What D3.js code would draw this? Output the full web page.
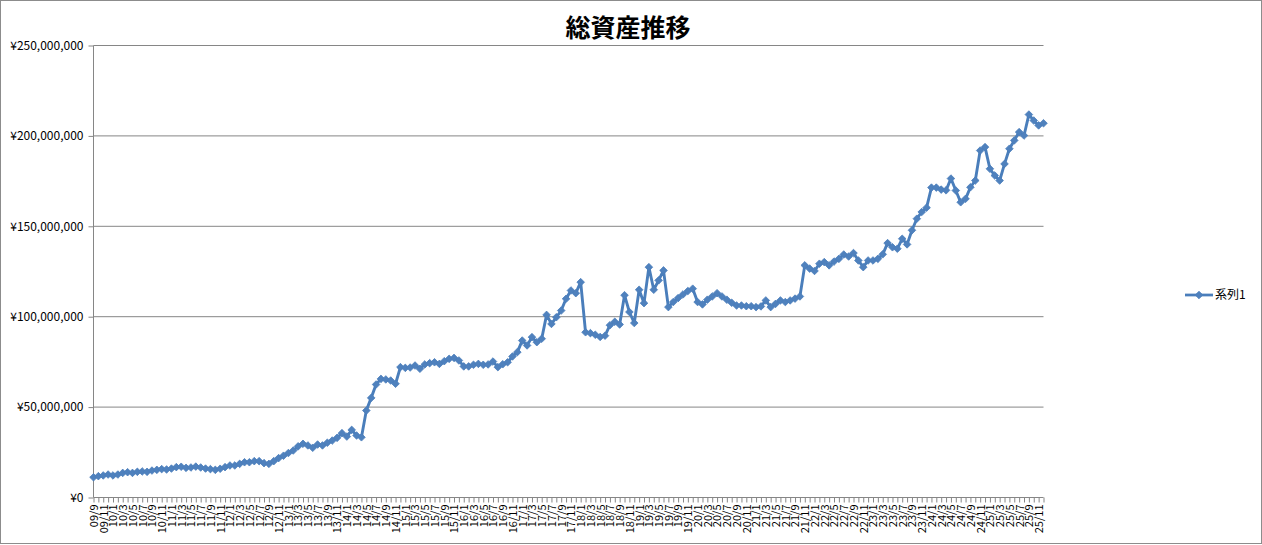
<!DOCTYPE html>
<html>
<head>
<meta charset="utf-8">
<script src="https://cdn.jsdelivr.net/npm/d3@7"></script>
<style>
body { margin: 0; background: #fff; }
svg { display: block; font-family: "Noto Sans CJK JP", "Noto Sans", sans-serif; }
</style>
</head>
<body>
<svg width="1262" height="545"></svg>
<script>
// 総資産 (百万円), 2009/9 - 2025/12 monthly
var assets2009 = [11.2, 11.8, 12.2, 12.7];
var assets2010 = [12.2, 12.7, 13.6, 14.0, 13.6, 14.2, 14.4, 14.2, 14.9, 15.3, 15.7, 15.5];
var assets2011 = [16.0, 16.8, 17.0, 16.4, 16.6, 17.1, 16.6, 16.0, 15.7, 15.3, 15.9, 16.8];
var assets2012 = [17.7, 17.7, 18.6, 19.5, 19.5, 20.1, 20.1, 19.0, 18.6, 20.1, 21.8, 23.1];
var assets2013 = [24.6, 26.0, 28.3, 29.7, 28.8, 27.5, 29.3, 28.8, 30.3, 31.5, 33.0, 35.6];
var assets2014 = [33.7, 37.4, 34.3, 33.3, 48.1, 55.1, 62.5, 65.6, 65.3, 64.7, 62.9, 72.1];
var assets2015 = [71.7, 71.9, 73.0, 71.2, 73.6, 74.3, 74.8, 73.9, 75.4, 76.7, 77.2, 75.8];
var assets2016 = [72.5, 72.5, 73.4, 73.9, 73.4, 73.6, 75.2, 72.1, 73.7, 74.8, 78.0, 80.4];
var assets2017 = [86.8, 84.1, 88.7, 85.9, 87.8, 101.0, 96.0, 99.7, 103.4, 109.9, 114.5, 113.0];
var assets2018 = [119.1, 91.4, 90.9, 90.0, 88.8, 89.5, 95.3, 97.2, 95.7, 111.9, 102.6, 96.5];
var assets2019 = [114.9, 107.5, 127.4, 114.9, 120.1, 125.6, 105.3, 108.1, 110.3, 112.3, 114.2, 115.5];
var assets2020 = [108.1, 106.8, 109.4, 111.2, 113.0, 111.2, 109.4, 107.7, 106.2, 106.2, 105.8, 105.8];
var assets2021 = [105.3, 105.7, 109.0, 105.3, 107.1, 109.0, 108.1, 109.0, 110.0, 111.2, 128.4, 126.6];
var assets2022 = [125.3, 129.3, 130.2, 128.4, 130.5, 132.0, 134.4, 133.3, 135.2, 131.1, 127.4, 131.1];
var assets2023 = [131.1, 132.0, 134.5, 140.7, 138.4, 137.6, 143.1, 140.0, 147.8, 154.2, 157.9, 160.3];
var assets2024 = [171.4, 171.4, 170.3, 169.9, 176.4, 169.8, 163.3, 165.2, 171.6, 175.3, 191.9, 193.8];
var assets2025 = [181.8, 178.1, 175.3, 184.5, 192.9, 197.5, 202.1, 200.2, 211.8, 208.5, 205.8, 207.0];

var yTicks = [0, 50, 100, 150, 200, 250];
var seriesName = '系列1';
var title = '総資産推移';

var values = [].concat(assets2009, assets2010, assets2011, assets2012, assets2013, assets2014,
	assets2015, assets2016, assets2017, assets2018, assets2019, assets2020, assets2021,
	assets2022, assets2023, assets2024, assets2025);

// category labels "yy/m"
var months = values.map(function (d, i) {
	var m = 8 + i;
	var yy = 9 + Math.floor(m / 12);
	return (yy < 10 ? '0' + yy : '' + yy) + '/' + (m % 12 + 1);
});

var data = values.map(function (v, i) {
	return { month: months[i], value: v };
});

var svg = d3.select('svg');
var width = 1262, height = 545;
var plotLeft = 93.5, plotRight = 1043.5, plotTop = 45.5, plotBottom = 497.5;
var blue = '#4a7ebb';
var grey = '#868686';

svg.append('rect')
	.attr('x', 0.5).attr('y', 0.5)
	.attr('width', width - 1).attr('height', height - 2)
	.attr('fill', '#fff')
	.attr('stroke', '#8c8c8c');

var xScale = d3.scalePoint().domain(months).range([plotLeft, plotRight]);
var yScale = d3.scaleLinear().domain([0, 250]).range([plotBottom, plotTop]);

// gridlines
svg.append('g')
	.selectAll('line')
	.data(yTicks.slice(1))
	.enter()
	.append('line')
	.attr('x1', plotLeft).attr('x2', plotRight)
	.attr('y1', function (d) { return yScale(d); })
	.attr('y2', function (d) { return yScale(d); })
	.attr('stroke', grey)
	.attr('stroke-width', 1);

var yenFormat = d3.format(',');

var yAxis = d3.axisLeft(yScale)
	.tickValues(yTicks)
	.tickSize(5)
	.tickPadding(5)
	.tickFormat(function (d) { return '¥' + yenFormat(d * 1000000); });

var gy = svg.append('g')
	.attr('transform', 'translate(' + plotLeft + ',0)')
	.call(yAxis);
gy.select('.domain').attr('stroke', grey).attr('d', 'M0,' + plotTop + 'V' + plotBottom);
gy.selectAll('.tick line').attr('stroke', grey);
gy.selectAll('text')
	.style('font-size', '12px')
	.style('font-family', '"Noto Sans CJK JP", sans-serif')
	.attr('fill', '#000');

var xAxis = d3.axisBottom(xScale)
	.tickSize(5)
	.tickFormat(function (d, i) { return i % 2 === 0 ? d : ''; });

var gx = svg.append('g')
	.attr('transform', 'translate(0,' + plotBottom + ')')
	.call(xAxis);
gx.select('.domain').attr('stroke', grey).attr('d', 'M' + plotLeft + ',0H' + plotRight);
gx.selectAll('.tick line').attr('stroke', grey);
gx.selectAll('text')
	.attr('transform', 'rotate(-90)')
	.attr('x', -7)
	.attr('y', 0)
	.attr('dy', '0.35em')
	.style('text-anchor', 'end')
	.style('font-size', '11px')
	.style('font-family', '"Noto Sans CJK JP", sans-serif')
	.attr('fill', '#000');

// series line
var line = d3.line()
	.x(function (d) { return xScale(d.month); })
	.y(function (d) { return yScale(d.value); });

svg.append('path')
	.datum(data)
	.attr('d', line)
	.attr('fill', 'none')
	.attr('stroke', blue)
	.attr('stroke-width', 2.9)
	.attr('stroke-linejoin', 'round');

var diamond = 'M0,-3.8L3.8,0L0,3.8L-3.8,0Z';

svg.append('g')
	.selectAll('path')
	.data(data)
	.enter()
	.append('path')
	.attr('d', diamond)
	.attr('transform', function (d) {
		return 'translate(' + xScale(d.month) + ',' + yScale(d.value) + ')';
	})
	.attr('fill', '#4f81bd')
	.attr('stroke', blue)
	.attr('stroke-width', 0.8);

// title
svg.append('text')
	.attr('x', 628)
	.attr('y', 37)
	.attr('text-anchor', 'middle')
	.style('font-size', '25px')
	.style('font-weight', 'bold')
	.text(title);

// legend
var legend = svg.append('g').attr('transform', 'translate(1185,295)');
legend.append('line')
	.attr('x1', 0).attr('x2', 28)
	.attr('stroke', blue)
	.attr('stroke-width', 2.75);
legend.append('path')
	.attr('d', diamond)
	.attr('transform', 'translate(14,0)')
	.attr('fill', '#4f81bd')
	.attr('stroke', blue)
	.attr('stroke-width', 0.8);
legend.append('text')
	.attr('x', 30)
	.attr('dy', '0.35em')
	.style('font-size', '12px')
	.text(seriesName);
</script>
</body>
</html>
